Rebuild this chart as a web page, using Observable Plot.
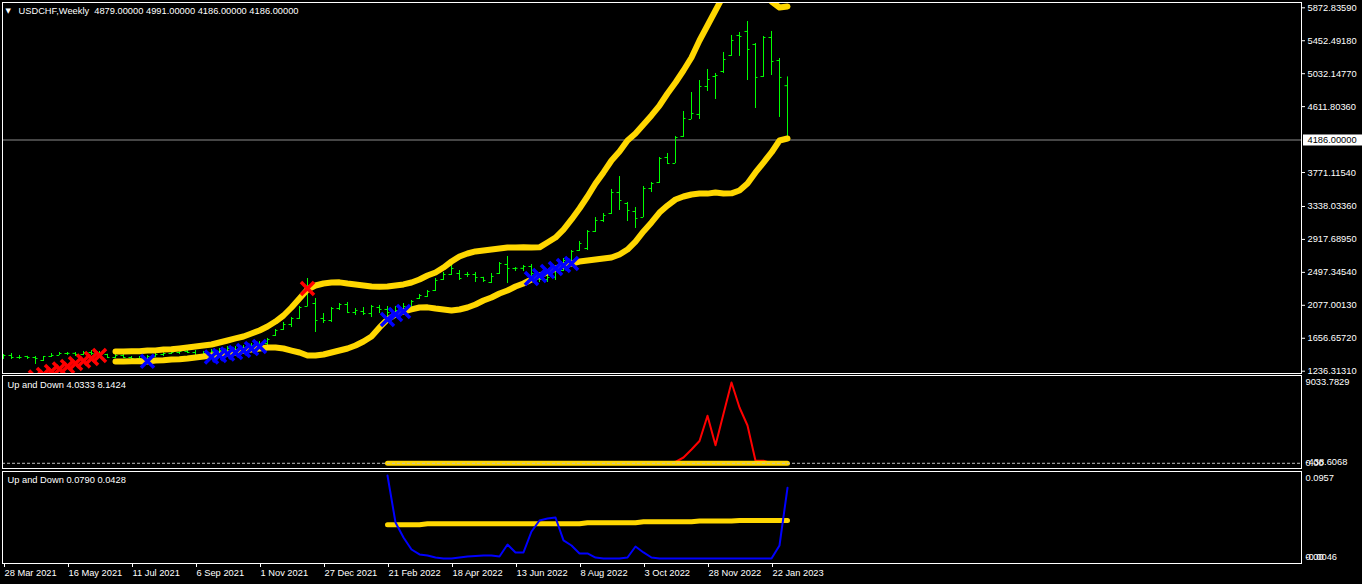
<!DOCTYPE html>
<html><head><meta charset="utf-8">
<script src="https://cdn.jsdelivr.net/npm/d3@7"></script>
<script src="https://cdn.jsdelivr.net/npm/@observablehq/plot@0.6"></script>
<style>
html,body{margin:0;padding:0;background:#000;}
#chart{position:relative;width:1362px;height:584px;background:#000;overflow:hidden;}
</style></head><body><div id="chart"></div>
<script>
// ---------- DATA ----------
const symbol = "USDCHF,Weekly";
const dateLabels = ["28 Mar 2021","16 May 2021","11 Jul 2021","6 Sep 2021","1 Nov 2021","27 Dec 2021","21 Feb 2022","18 Apr 2022","13 Jun 2022","8 Aug 2022","3 Oct 2022","28 Nov 2022","22 Jan 2023"];
const dateTickIdx = [0,8,16,24,32,40,48,56,64,72,80,88,96];
const priceTicks = [5872.8359,5452.4918,5032.1477,4611.8036,3771.1154,3338.0336,2917.6895,2497.3454,2077.0013,1656.6572,1236.3131];
const priceDomain = [1236.3131, 5872.8359];
const currentPrice = 4186;

const opens = [1398,1437,1411,1424,1411,1373,1424,1437,1462,1464,1449,1475,1462,1449,
 1411,1437,1411,1398,1400,1424,1449,1462,1475,1488,
 1475,1437,1462,1488,1500,1526,1513,1539,1564,1590,
 1692,1768,1832,1909,2062,2100,1909,1883,2036,2087,
 1985,1998,1972,2049,2024,1985,2011,2062,2164,2189,
 2266,2406,2470,2483,2470,2470,2432,2368,2483,2598,
 2547,2549,2572,2457,2406,2432,2521,2649,2776,2802,
 3019,3159,3248,3516,3376,3274,3197,3567,3644,3963,
 3886,4231,4448,4512,4869,4996,5060,5264,5520,5571,
 5405,4996,5494,5200,4879];
const highs = [1449,1462,1437,1426,1424,1424,1462,1475,1475,1475,1488,1500,1488,1452,
 1462,1449,1424,1424,1437,1462,1488,1488,1500,1513,
 1500,1488,1513,1526,1551,1551,1564,1590,1615,1654,
 1768,1858,1921,2062,2419,2164,1972,2049,2100,2113,
 2036,2049,2075,2075,2062,2062,2100,2138,2215,2266,
 2419,2496,2585,2521,2496,2496,2434,2483,2623,2700,
 2559,2585,2598,2470,2483,2547,2674,2776,2891,3031,
 3197,3248,3555,3720,3389,3325,3593,3644,3963,4014,
 4231,4550,4792,4945,5086,5035,5303,5520,5558,5698,
 5417,5507,5571,5226,4991];
const lows = [1386,1386,1386,1386,1322,1360,1411,1435,1437,1424,1437,1437,1424,1398,
 1398,1398,1386,1360,1360,1411,1424,1449,1449,1462,
 1424,1411,1437,1462,1475,1488,1488,1513,1539,1564,
 1679,1756,1794,1896,2055,1730,1845,1858,2011,1972,
 1947,1947,1921,1972,1909,1909,1972,2036,2151,2177,
 2253,2394,2457,2394,2432,2368,2368,2355,2470,2355,
 2508,2508,2445,2368,2368,2394,2508,2636,2764,2776,
 3006,3134,3236,3287,3146,3057,3195,3516,3631,3884,
 3884,4218,4446,4448,4805,4703,5035,5252,5252,4945,
 4588,4984,5009,4474,4186];
const closes = [1437,1411,1411,1411,1398,1424,1437,1462,1464,1449,1475,1462,1449,1411,
 1437,1411,1398,1400,1424,1449,1462,1475,1488,1475,
 1437,1462,1488,1500,1526,1513,1539,1564,1577,1641,
 1756,1832,1909,2049,2266,1883,1883,2036,2087,1985,
 2011,1972,2062,2024,1985,2011,2062,2126,2202,2253,
 2394,2470,2547,2419,2470,2432,2394,2445,2610,2547,
 2549,2572,2483,2406,2432,2521,2649,2764,2866,3019,
 3159,3223,3516,3414,3287,3185,3567,3631,3950,3886,
 4218,4461,4524,4869,4958,5009,5213,5456,5507,5341,
 4984,5494,5188,4984,4186];

const bandStart = 14;
const upperBand = [1488,1488,1490,1490,1500,1502,1513,1515,1526,1539,
 1551,1564,1577,1602,1628,1654,1679,1717,1756,1807,
 1870,1947,2049,2164,2279,2330,2355,2368,2370,2355,
 2343,2330,2317,2315,2317,2330,2343,2368,2406,2457,
 2496,2559,2636,2700,2738,2764,2776,2789,2802,2815,
 2815,2817,2815,2817,2878,2942,3044,3172,3312,3465,
 3631,3772,3925,4039,4180,4269,4384,4499,4626,4779,
 4920,5073,5239,5456,5647,5838,6030,6196,6323,6349,
 6272,6119,5953,5877,5890];
const lowerBand = [1360,1360,1362,1362,1360,1373,1375,1386,1388,1398,
 1411,1424,1437,1449,1462,1475,1500,1513,1526,1539,
 1539,1526,1500,1475,1437,1437,1449,1475,1500,1526,
 1564,1615,1679,1794,1896,1960,1998,2024,2049,2051,
 2036,2024,2011,2024,2049,2087,2138,2177,2228,2266,
 2317,2355,2406,2457,2496,2547,2585,2610,2636,2649,
 2661,2674,2687,2725,2789,2891,3019,3134,3261,3350,
 3427,3465,3491,3504,3502,3516,3504,3506,3542,3631,
 3772,3899,4027,4180,4205];

const redXIdx = [4,5,6,7,8,9,10,11,12,38];
const redXVal = [1162,1194,1232,1264,1296,1335,1366,1398,1437,2291];
const blueXIdx = [18,26,27,28,29,30,31,32,48,49,50,66,67,68,69,70,71];
const blueXVal = [1364,1417,1437,1456,1475,1500,1526,1551,1896,1960,1998,2419,2457,2508,2547,2585,2610];

// sub window 1
const subStart = 48;
const sub1Red = [0,0,0,0,0,0,0,0,0,0, 0,0,0,0,0,0,0,0,0,0, 0,0,0,0,0,0,0,0,0,0, 0,0,0,0,0,0,
 155,602,1435,2320,4943,1883,5151,8409,5807,3933,259,259,8,8,4.0333];
const sub1Yellow = [9.6,9.5,9.5,9.4,9.4,9.3,9.3,9.2,9.2,9.1,
 9.1,9.0,9.0,8.9,8.9,8.9,8.8,8.8,8.8,8.7,
 8.7,8.7,8.6,8.6,8.6,8.5,8.5,8.5,8.5,8.4,
 8.4,8.4,8.4,8.3,8.3,8.3,8.3,8.3,8.2,8.2,
 8.2,8.2,8.2,8.2,8.2,8.1,8.1,8.1,8.1,8.1,8.1424];
const sub1Max = 9033.7829, sub1Min = -438.6068, sub1Level = 0;

// sub window 2
const sub2Blue = [0.0926,0.0406,0.0240,0.0107,0.0052,0.0041,0.0018,0.0007,0.0007,0.0018,
 0.0030,0.0035,0.0041,0.0041,0.0030,0.0162,0.0074,0.0074,0.0306,0.0428,
 0.0450,0.0461,0.0207,0.0151,0.0063,0.0063,0.0018,0.0007,0.0007,0.0007,
 0.0018,0.0140,0.0074,0.0018,0.0007,0.0007,0.0007,0.0007,0.0007,0.0007,
 0.0007,0.0007,0.0007,0.0007,0.0007,0.0007,0.0007,0.0007,0.0007,0.0151,
 0.0790];
const sub2Yellow = [0.0380,0.0380,0.0380,0.0380,0.0380,
 0.0391,0.0391,0.0391,0.0391,0.0391,0.0391,0.0391,0.0391,0.0391,0.0391,
 0.0391,0.0391,0.0391,0.0391,0.0391,0.0391,0.0391,0.0391,0.0391,0.0391,
 0.0403,0.0403,0.0403,0.0403,0.0403,0.0403,0.0403,
 0.0414,0.0414,0.0414,0.0414,0.0414,0.0414,0.0414,
 0.0421,0.0421,0.0421,0.0421,0.0421,
 0.0428,0.0428,0.0428,0.0428,0.0428,0.0428,0.0428];
const sub2Max = 0.0957, sub2Min = -0.0046, sub2Level = 0;

// ---------- BUILD ----------
const FONT = "'Liberation Sans', Arial, sans-serif";
const GREEN = "#00ff00", GOLD = "#ffd700", RED = "#ff0000", BLUE = "#0000ff", WHITE = "#ffffff";
const bars = opens.map((o, i) => ({i, open: o, high: highs[i], low: lows[i], close: closes[i]}));
const upper = upperBand.map((v, k) => ({i: bandStart + k, v}));
const lower = lowerBand.map((v, k) => ({i: bandStart + k, v}));
const redX = redXIdx.map((i, k) => ({i, v: redXVal[k]}));
const blueX = blueXIdx.map((i, k) => ({i, v: blueXVal[k]}));
const s1red = sub1Red.map((v, k) => ({i: subStart + k, v}));
const s1yel = sub1Yellow.map((v, k) => ({i: subStart + k, v}));
const s2blue = sub2Blue.map((v, k) => ({i: subStart + k, v}));
const s2yel = sub2Yellow.map((v, k) => ({i: subStart + k, v}));
const last = bars[bars.length - 1];
const mainTitle = symbol + "\u00a0\u00a0" + [last.open, last.high, last.low, last.close].map(d => d.toFixed(5)).join(" ");
const sub1Title = "Up and Down " + sub1Red[sub1Red.length - 1].toFixed(4) + " " + sub1Yellow[sub1Yellow.length - 1].toFixed(4);
const sub2Title = "Up and Down " + sub2Blue[sub2Blue.length - 1].toFixed(4) + " " + sub2Yellow[sub2Yellow.length - 1].toFixed(4);
const dateMap = new Map(dateTickIdx.map((d, k) => [d, dateLabels[k]]));

const common = {
  width: 1362, marginLeft: 2, marginRight: 61,
  style: {background: "#000", color: WHITE, fontFamily: FONT, fontSize: "9.3px", overflow: "visible", position: "absolute", left: "0px"}
};
const xOpt = {type: "linear", domain: [0, 96], range: [3, 771]};
const bandStyle = {x: "i", y: "v", stroke: GOLD, strokeLinecap: "round", strokeLinejoin: "round", clip: true};

const mainPlot = Plot.plot({
  ...common, height: 374, marginTop: 2, marginBottom: 1,
  x: {...xOpt, axis: null},
  y: {domain: priceDomain, range: [370.7, 7.3], axis: null},
  marks: [
    Plot.ruleY([currentPrice], {stroke: "#8c8c8c"}),
    Plot.ruleX(bars, {x: "i", y1: "low", y2: "high", stroke: GREEN, clip: true}),
    Plot.ruleY(bars, {y: "open", x1: d => d.i - 0.3125, x2: "i", stroke: GREEN, clip: true}),
    Plot.ruleY(bars, {y: "close", x1: "i", x2: d => d.i + 0.3125, stroke: GREEN, clip: true}),
    Plot.line(upper, {...bandStyle, strokeWidth: 6}),
    Plot.line(lower, {...bandStyle, strokeWidth: 6}),
    Plot.dot(redX, {x: "i", y: "v", symbol: "times", r: 6, stroke: RED, strokeWidth: 3.5, clip: true}),
    Plot.dot(blueX, {x: "i", y: "v", symbol: "times", r: 6, stroke: BLUE, strokeWidth: 3.5, clip: true}),
    Plot.axisY(priceTicks, {anchor: "right", tickSize: 3, tickPadding: 3, tickFormat: d => d.toFixed(5), label: null}),
    Plot.text([currentPrice], {y: d => d, text: d => d.toFixed(5), frameAnchor: "right", dx: 6, textAnchor: "start", lineAnchor: "middle", fill: "#000", className: "curprice"}),
    Plot.text(["\u25BC"], {frameAnchor: "top-left", dx: 3, dy: 8.5, textAnchor: "start", lineAnchor: "middle", fill: WHITE, fontSize: 7, fontFamily: "DejaVu Sans"}),
    Plot.text([mainTitle], {frameAnchor: "top-left", dx: 16, dy: 8.5, textAnchor: "start", lineAnchor: "middle", fill: WHITE}),
    Plot.frame({stroke: WHITE})
  ]
});
mainPlot.style.top = "0px";

const sub1Plot = Plot.plot({
  ...common, height: 95, marginTop: 1, marginBottom: 1,
  x: {...xOpt, axis: null},
  y: {domain: [sub1Min, sub1Max], range: [93, 2], axis: null},
  marks: [
    Plot.line(s1red, {x: "i", y: "v", stroke: RED, strokeWidth: 2, clip: true}),
    Plot.line(s1yel, {...bandStyle, strokeWidth: 5}),
    Plot.ruleY([sub1Level], {stroke: "#c0c0c0", strokeDasharray: "3,2"}),
    Plot.text([sub1Max], {y: d => d, text: d => d.toFixed(4), frameAnchor: "right", dx: 4, dy: 6, textAnchor: "start", lineAnchor: "middle", fill: WHITE}),
    Plot.text([sub1Min], {y: d => d, text: d => d.toFixed(4), frameAnchor: "right", dx: 4, dy: -5, textAnchor: "start", lineAnchor: "middle", fill: WHITE}),
    Plot.text([sub1Level], {y: d => d, text: d => d.toFixed(2), frameAnchor: "right", dx: 4, dy: -0.5, textAnchor: "start", lineAnchor: "middle", fill: WHITE}),
    Plot.text([sub1Title], {frameAnchor: "top-left", dx: 5, dy: 10, textAnchor: "start", lineAnchor: "middle", fill: WHITE}),
    Plot.frame({stroke: WHITE})
  ]
});
sub1Plot.style.top = "374px";

const sub2Plot = Plot.plot({
  ...common, height: 115, marginTop: 2, marginBottom: 21,
  x: {...xOpt},
  y: {domain: [sub2Min, sub2Max], range: [93.8, 3.2], axis: null},
  marks: [
    Plot.line(s2yel, {...bandStyle, strokeWidth: 5}),
    Plot.line(s2blue, {x: "i", y: "v", stroke: BLUE, strokeWidth: 2, clip: true}),
    Plot.axisX(dateTickIdx, {anchor: "bottom", tickSize: 4, tickPadding: 2, textAnchor: "start", dx: 1, tickFormat: d => dateMap.get(d), label: null}),
    Plot.text([sub2Max], {y: d => d, text: d => d.toFixed(4), frameAnchor: "right", dx: 4, dy: 5, textAnchor: "start", lineAnchor: "middle", fill: WHITE}),
    Plot.text([sub2Min], {y: d => d, text: d => d.toFixed(4), frameAnchor: "right", dx: 4, dy: -6, textAnchor: "start", lineAnchor: "middle", fill: WHITE}),
    Plot.text([sub2Level], {y: d => d, text: d => d.toFixed(2), frameAnchor: "right", dx: 4, dy: -2, textAnchor: "start", lineAnchor: "middle", fill: WHITE}),
    Plot.text([sub2Title], {frameAnchor: "top-left", dx: 5, dy: 8.5, textAnchor: "start", lineAnchor: "middle", fill: WHITE}),
    Plot.frame({stroke: WHITE})
  ]
});
sub2Plot.style.top = "469px";

const chart = document.getElementById("chart");
chart.appendChild(mainPlot);
chart.appendChild(sub1Plot);
chart.appendChild(sub2Plot);

// white box behind the current price label (same transform as the text, centred on its box)
const cp = mainPlot.querySelector(".curprice text");
if (cp) {
  const bb = cp.getBBox();
  const rect = document.createElementNS("http://www.w3.org/2000/svg", "rect");
  const tf = cp.getAttribute("transform");
  if (tf) rect.setAttribute("transform", tf);
  rect.setAttribute("x", bb.x - 4.5);
  rect.setAttribute("y", bb.y + (bb.height - 11) / 2);
  rect.setAttribute("width", bb.width + 10);
  rect.setAttribute("height", 11);
  rect.setAttribute("fill", WHITE);
  cp.parentNode.insertBefore(rect, cp);
}
</script></body></html>
